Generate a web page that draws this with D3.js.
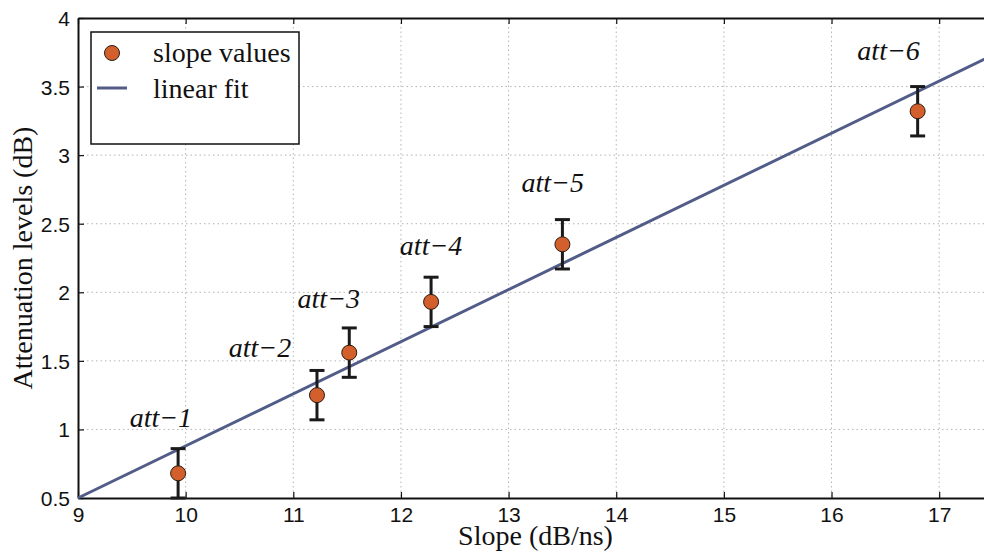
<!DOCTYPE html>
<html>
<head>
<meta charset="utf-8">
<script src="https://cdn.jsdelivr.net/npm/d3@7"></script>
<style>
  body { margin: 0; background: #fff; }
  svg { display: block; }
</style>
</head>
<body>
<div id="chart-root"></div>
<script>
// measured slope per attenuation step
const slopeX = [9.93, 11.22, 11.52, 12.28, 13.5, 16.8];
const attLevel = [0.68, 1.25, 1.56, 1.93, 2.35, 3.32];
const errHalf = [0.18, 0.18, 0.18, 0.18, 0.18, 0.18];
const pointNames = ['att\u22121', 'att\u22122', 'att\u22123', 'att\u22124', 'att\u22125', 'att\u22126'];
// where the names sit (data units, left / baseline)
const nameX = [9.48, 10.40, 11.04, 11.99, 13.12, 16.24];
const nameY = [1.02, 1.53, 1.885, 2.272, 2.731, 3.694];

// linear fit end points
const fitX = [9, 17.5];
const fitY = [0.5, 3.73];

const xTicks = [9, 10, 11, 12, 13, 14, 15, 16, 17];
const yTicks = [0.5, 1, 1.5, 2, 2.5, 3, 3.5, 4];

const W = 984, H = 554;
const margin = {top: 18, left: 78};
const width = 915, height = 480;

const svg = d3.select('#chart-root').append('svg')
    .attr('width', W).attr('height', H);

const x = d3.scaleLinear().domain([9, 17.5]).range([0, width]);
const y = d3.scaleLinear().domain([0.5, 4]).range([height, 0]);

const g = svg.append('g')
    .attr('transform', 'translate(' + margin.left + ',' + margin.top + ')');

// grid
const grid = g.append('g').attr('stroke', '#b4b4b4').attr('stroke-width', 1)
    .attr('stroke-dasharray', '1.5,3');
grid.selectAll('.gx').data(xTicks.slice(1)).join('line')
    .attr('x1', d => x(d)).attr('x2', d => x(d))
    .attr('y1', 0).attr('y2', height);
grid.selectAll('.gy').data(yTicks.slice(1, -1)).join('line')
    .attr('x1', 0).attr('x2', width)
    .attr('y1', d => y(d)).attr('y2', d => y(d));

// axes
const tickFont = '21px "Liberation Sans", Arial, sans-serif';
const xAxis = g.append('g').attr('transform', 'translate(0,' + height + ')')
    .call(d3.axisBottom(x).tickValues(xTicks).tickFormat(d3.format('d'))
      .tickSizeInner(-6).tickSizeOuter(0).tickPadding(9));
const xTop = g.append('g')
    .call(d3.axisTop(x).tickValues(xTicks).tickFormat('')
      .tickSizeInner(-6).tickSizeOuter(0));
const yAxis = g.append('g')
    .call(d3.axisLeft(y).tickValues(yTicks).tickFormat(d => d)
      .tickSizeInner(-6).tickSizeOuter(0).tickPadding(8));
[xAxis, xTop, yAxis].forEach(a => {
  a.select('.domain').attr('stroke', '#111').attr('stroke-width', 2);
  a.selectAll('.tick line').attr('stroke', '#111').attr('stroke-width', 1.2);
  a.selectAll('.tick text').style('font', tickFont).attr('fill', '#111');
});
yAxis.selectAll('.tick text').attr('dy', '0.36em');

// fit line
g.append('path')
    .datum(d3.zip(fitX, fitY))
    .attr('d', d3.line().x(d => x(d[0])).y(d => y(d[1])))
    .attr('fill', 'none').attr('stroke', '#525c88').attr('stroke-width', 3);

// error bars + points
const pts = d3.range(slopeX.length);
const eb = g.append('g').attr('stroke', '#1a1a1a').attr('stroke-width', 3);
eb.selectAll('.v').data(pts).join('line')
    .attr('x1', i => x(slopeX[i])).attr('x2', i => x(slopeX[i]))
    .attr('y1', i => y(attLevel[i] - errHalf[i])).attr('y2', i => y(attLevel[i] + errHalf[i]));
eb.selectAll('.t').data(pts).join('line')
    .attr('x1', i => x(slopeX[i]) - 7.5).attr('x2', i => x(slopeX[i]) + 7.5)
    .attr('y1', i => y(attLevel[i] + errHalf[i])).attr('y2', i => y(attLevel[i] + errHalf[i]));
eb.selectAll('.b').data(pts).join('line')
    .attr('x1', i => x(slopeX[i]) - 7.5).attr('x2', i => x(slopeX[i]) + 7.5)
    .attr('y1', i => y(attLevel[i] - errHalf[i])).attr('y2', i => y(attLevel[i] - errHalf[i]));

g.append('g').selectAll('circle').data(pts).join('circle')
    .attr('cx', i => x(slopeX[i])).attr('cy', i => y(attLevel[i]))
    .attr('r', 7.5)
    .attr('fill', '#d3602c').attr('stroke', '#2a1a10').attr('stroke-width', 1);

// point names
const serif = '"Liberation Serif", "Times New Roman", serif';
g.append('g').selectAll('text').data(pts).join('text')
    .attr('x', i => x(nameX[i])).attr('y', i => y(nameY[i]))
    .style('font', 'italic 28px ' + serif).attr('fill', '#111')
    .text(i => pointNames[i]);

// axis titles
svg.append('text')
    .attr('x', margin.left + width / 2).attr('y', 545)
    .attr('text-anchor', 'middle')
    .style('font', '28px ' + serif).attr('fill', '#111')
    .text('Slope (dB/ns)');
svg.append('text')
    .attr('transform', 'translate(32,' + (margin.top + height / 2) + ') rotate(-90)')
    .attr('text-anchor', 'middle')
    .style('font', '28px ' + serif).attr('fill', '#111')
    .text('Attenuation levels (dB)');

// legend
const lg = svg.append('g').attr('transform', 'translate(91,32)');
lg.append('rect').attr('width', 208).attr('height', 112)
    .attr('fill', '#fff').attr('stroke', '#111').attr('stroke-width', 1.5);
lg.append('circle').attr('cx', 21).attr('cy', 21).attr('r', 7.5)
    .attr('fill', '#d3602c').attr('stroke', '#2a1a10').attr('stroke-width', 1);
lg.append('line').attr('x1', 6).attr('x2', 36).attr('y1', 56).attr('y2', 56)
    .attr('stroke', '#525c88').attr('stroke-width', 3);
lg.append('text').attr('x', 62).attr('y', 30)
    .style('font', '28px ' + serif).attr('fill', '#111').text('slope values');
lg.append('text').attr('x', 62).attr('y', 66)
    .style('font', '28px ' + serif).attr('fill', '#111').text('linear fit');
</script>
</body>
</html>
